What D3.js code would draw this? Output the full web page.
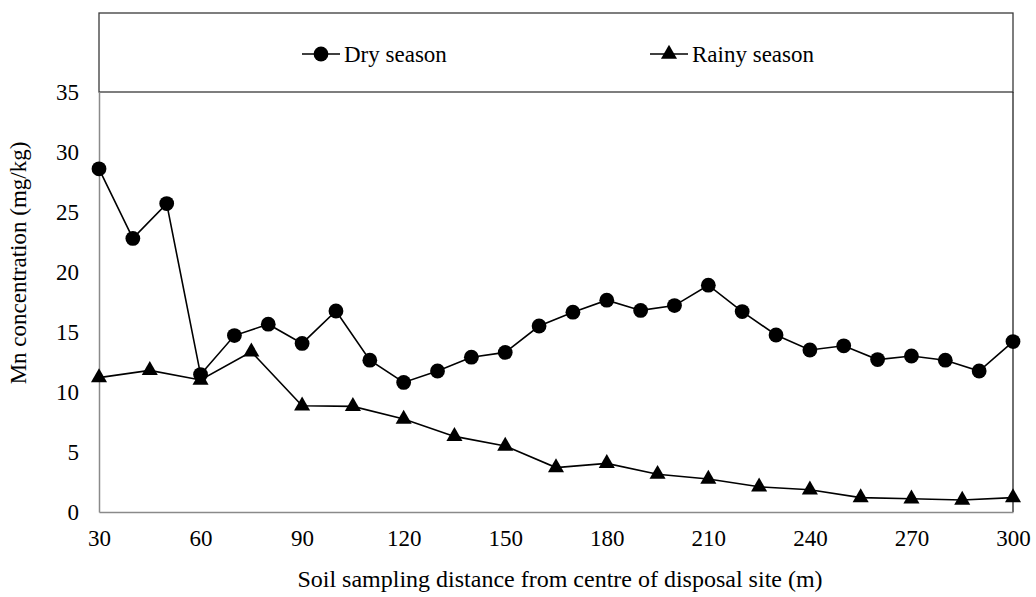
<!DOCTYPE html>
<html>
<head>
<meta charset="utf-8">
<script src="https://cdn.jsdelivr.net/npm/d3@7"></script>
</head>
<body style="margin:0">
<svg id="chart" width="1036" height="597"></svg>
<script>
// Mn concentration in soil by sampling distance
const dryDistance = [30, 40, 50, 60, 70, 80, 90, 100, 110, 120, 130, 140, 150, 160, 170, 180, 190, 200, 210, 220, 230, 240, 250, 260, 270, 280, 290, 300];
const dryMn = [28.6, 22.8, 25.7, 11.45, 14.7, 15.65, 14.05, 16.75, 12.65, 10.8, 11.75, 12.9, 13.3, 15.5, 16.65, 17.65, 16.8, 17.2, 18.9, 16.7, 14.75, 13.5, 13.85, 12.7, 13.0, 12.65, 11.75, 14.2];

const rainyDistance = [30, 45, 60, 75, 90, 105, 120, 135, 150, 165, 180, 195, 210, 225, 240, 255, 270, 285, 300];
const rainyMn = [11.2, 11.8, 11.0, 13.35, 8.85, 8.8, 7.75, 6.3, 5.5, 3.7, 4.05, 3.15, 2.75, 2.1, 1.85, 1.2, 1.1, 1.0, 1.2];

const xTicks = [30, 60, 90, 120, 150, 180, 210, 240, 270, 300];
const yTicks = [0, 5, 10, 15, 20, 25, 30, 35];

const seriesNames = ["Dry season", "Rainy season"];

const FONT = "Liberation Serif";

const svg = d3.select("#chart");
const plot = { left: 99, right: 1013, top: 92, bottom: 512 };
const legendTop = 13;

const x = d3.scaleLinear().domain([30, 300]).range([plot.left, plot.right]);
const y = d3.scaleLinear().domain([0, 35]).range([plot.bottom, plot.top]);

// legend frame above the plot
svg.append("rect")
  .attr("x", plot.left).attr("y", legendTop)
  .attr("width", plot.right - plot.left).attr("height", plot.top - legendTop)
  .attr("fill", "none").attr("stroke", "#3a3a3a").attr("stroke-width", 1.3);

// right border of plot area
svg.append("line")
  .attr("x1", plot.right).attr("x2", plot.right)
  .attr("y1", plot.top).attr("y2", plot.bottom)
  .attr("stroke", "#222").attr("stroke-width", 1.3);

// axes
const xAxis = d3.axisBottom(x).tickValues(xTicks).tickSize(0).tickPadding(18).tickFormat(d3.format("d"));
const yAxis = d3.axisLeft(y).tickValues(yTicks).tickSize(0).tickPadding(20).tickFormat(d3.format("d"));

const gx = svg.append("g").attr("transform", `translate(0,${plot.bottom})`).call(xAxis);
const gy = svg.append("g").attr("transform", `translate(${plot.left},0)`).call(yAxis);

[gx, gy].forEach(g => {
  g.select(".domain").attr("stroke", "#8a8a8a").attr("stroke-width", 1.5);
  g.selectAll("text").attr("fill", "#000")
    .style("font-family", FONT).style("font-size", "23px");
});
gx.selectAll("text").attr("dy", "0.71em");

// axis titles
svg.append("text")
  .style("font-family", FONT).style("font-size", "24px")
  .attr("x", 560).attr("y", 587)
  .attr("text-anchor", "middle")
  .text("Soil sampling distance from centre of disposal site (m)");

svg.append("text")
  .style("font-family", FONT).style("font-size", "23px")
  .attr("transform", "translate(26,263) rotate(-90)")
  .attr("text-anchor", "middle")
  .text("Mn concentration (mg/kg)");

const line = d3.line().x(d => x(d[0])).y(d => y(d[1]));

const dryData = dryDistance.map((d, i) => [d, dryMn[i]]);
const rainyData = rainyDistance.map((d, i) => [d, rainyMn[i]]);

const triangle = d3.symbol().type(d3.symbolTriangle).size(112);

// rainy season series
svg.append("path").datum(rainyData)
  .attr("d", line).attr("fill", "none").attr("stroke", "#000").attr("stroke-width", 1.6);
svg.append("g").selectAll("path").data(rainyData).join("path")
  .attr("d", triangle)
  .attr("transform", d => `translate(${x(d[0])},${y(d[1])})`)
  .attr("fill", "#000");

// dry season series
svg.append("path").datum(dryData)
  .attr("d", line).attr("fill", "none").attr("stroke", "#000").attr("stroke-width", 1.6);
svg.append("g").selectAll("circle").data(dryData).join("circle")
  .attr("cx", d => x(d[0])).attr("cy", d => y(d[1]))
  .attr("r", 7.4).attr("fill", "#000");

// legend entries
const legendY = 54;
const legend = [
  { name: seriesNames[0], x0: 302, marker: "circle" },
  { name: seriesNames[1], x0: 650, marker: "triangle" }
];
legend.forEach(item => {
  const g = svg.append("g");
  g.append("line")
    .attr("x1", item.x0).attr("x2", item.x0 + 38)
    .attr("y1", legendY).attr("y2", legendY)
    .attr("stroke", "#000").attr("stroke-width", 1.6);
  if (item.marker === "circle") {
    g.append("circle").attr("cx", item.x0 + 19).attr("cy", legendY).attr("r", 7.4).attr("fill", "#000");
  } else {
    g.append("path").attr("d", triangle)
      .attr("transform", `translate(${item.x0 + 19},${legendY})`).attr("fill", "#000");
  }
  g.append("text")
    .style("font-family", FONT).style("font-size", "23px")
    .attr("x", item.x0 + 42).attr("y", legendY).attr("dy", "0.33em")
    .text(item.name);
});
</script>
</body>
</html>
